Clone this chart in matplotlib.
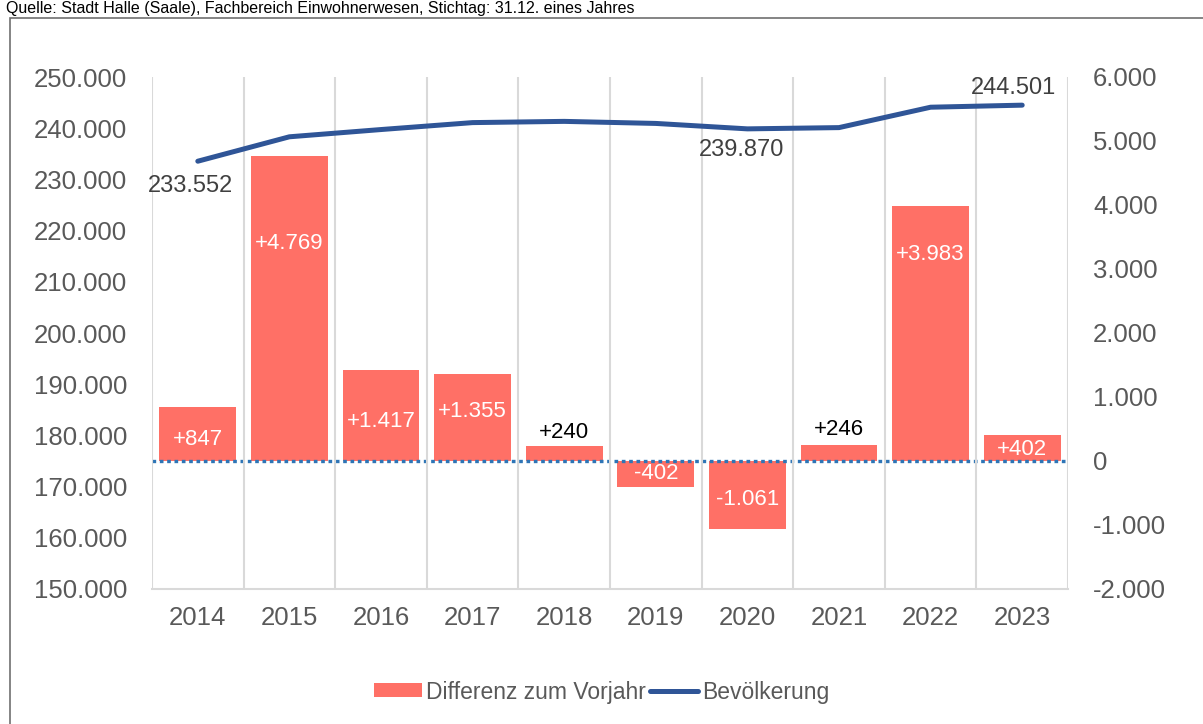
import matplotlib
matplotlib.use("Agg")
import matplotlib.pyplot as plt
from matplotlib.patches import Rectangle

plt.rcParams['font.family'] = ['Liberation Sans', 'DejaVu Sans']

# Daten
jahre = ['2014', '2015', '2016', '2017', '2018', '2019', '2020', '2021', '2022', '2023']
bevoelkerung = [233552, 238321, 239738, 241093, 241333, 240931, 239870, 240116, 244099, 244501]
differenz = [847, 4769, 1417, 1355, 240, -402, -1061, 246, 3983, 402]
diff_labels = ['+847', '+4.769', '+1.417', '+1.355', '+240', '-402', '-1.061', '+246', '+3.983', '+402']
links_ticks = [150000, 160000, 170000, 180000, 190000, 200000, 210000, 220000, 230000, 240000, 250000]
rechts_ticks = [-2000, -1000, 0, 1000, 2000, 3000, 4000, 5000, 6000]
quelle = 'Quelle: Stadt Halle (Saale), Fachbereich Einwohnerwesen, Stichtag: 31.12. eines Jahres'


def de_fmt(v):
    return f"{v:,.0f}".replace(',', '.')


bar_color = '#FF7066'
line_color = '#2F5597'
tick_color = '#595959'

fig = plt.figure(figsize=(12.03, 7.24), dpi=100)
ax = fig.add_axes([152 / 1203, 135 / 724, 916 / 1203, 512 / 724])
ax2 = ax.twinx()

x = list(range(len(jahre)))

# Balken (rechte Achse)
bars = ax2.bar(x, differenz, width=0.84, color=bar_color, label='Differenz zum Vorjahr', zorder=2)
ax2.axhline(0, color='#2E75B6', lw=2.4, linestyle=(0, (1.1, 1.1)), dash_capstyle='butt', zorder=3)

# Beschriftung der Balken: Versatz (Pixel, positiv = nach oben) vom Balkenende
offsets = [-33, -88, -51, -37, 13, 13, 29, 16, -48, -14]
farben = ['white', 'white', 'white', 'white', 'black', 'white', 'white', 'black', 'white', 'white']
for i, (v, lab) in enumerate(zip(differenz, diff_labels)):
    ax2.annotate(lab, (i, v), xytext=(0, offsets[i]),
                 textcoords='offset pixels', ha='center', va='center',
                 fontsize=16, color=farben[i], zorder=4)

# Linie (linke Achse)
line, = ax.plot(x, bevoelkerung, color=line_color, lw=3.6, solid_capstyle='round',
                label='Bevölkerung', zorder=5)
ax.set_zorder(ax2.get_zorder() + 1)
ax.patch.set_visible(False)

# Beschriftung ausgewählter Punkte
punkt_labels = {0: (-7, -25), 6: (-6, -21), 9: (-9, 17)}
for i, off in punkt_labels.items():
    ax.annotate(de_fmt(bevoelkerung[i]), (i, bevoelkerung[i]), xytext=off,
                textcoords='offset pixels', ha='center', va='center',
                fontsize=17, color='#404040')

ax.set_xlim(-0.5, len(jahre) - 0.5)
ax.set_ylim(150000, 250000)
ax2.set_ylim(-2000, 6000)
ax.set_yticks(links_ticks)
ax.set_yticklabels([de_fmt(v) for v in links_ticks])
ax2.set_yticks(rechts_ticks)
ax2.set_yticklabels([de_fmt(v) for v in rechts_ticks])
ax.set_xticks(x)
ax.set_xticklabels(jahre)
ax.set_xticks([i - 0.5 for i in range(len(jahre) + 1)], minor=True)
ax.grid(True, which='minor', axis='x', color='#D9D9D9', lw=1.5)

for a in (ax, ax2):
    for s in a.spines.values():
        s.set_visible(False)
ax.spines['bottom'].set_visible(True)
ax.spines['bottom'].set_color('#D9D9D9')
ax.spines['bottom'].set_linewidth(1.5)

ax.tick_params(axis='both', which='both', length=0, colors=tick_color, labelsize=18.5)
ax.tick_params(axis='y', pad=18)
ax.tick_params(axis='x', pad=12)
ax2.tick_params(axis='y', length=0, colors=tick_color, labelsize=18.5, pad=18)

fig.legend(handles=[bars, line], loc='center', bbox_to_anchor=(0.5, 32 / 724), ncol=2,
           frameon=False, fontsize=16.5, labelcolor=tick_color, handlelength=2.1,
           handleheight=0.55, handletextpad=0.15, columnspacing=0.2)

# Rahmen und Quelle oben
fig.patches.append(Rectangle((10 / 1203, -0.1), 2, 1.1 - 18 / 724, transform=fig.transFigure,
                             fill=False, edgecolor='#6F6F6F', lw=1.2))
fig.text(6 / 1203, 1 - 13 / 724, quelle, fontsize=11.5, va='baseline', ha='left', color='black')

fig.savefig('out.png', dpi=100)
